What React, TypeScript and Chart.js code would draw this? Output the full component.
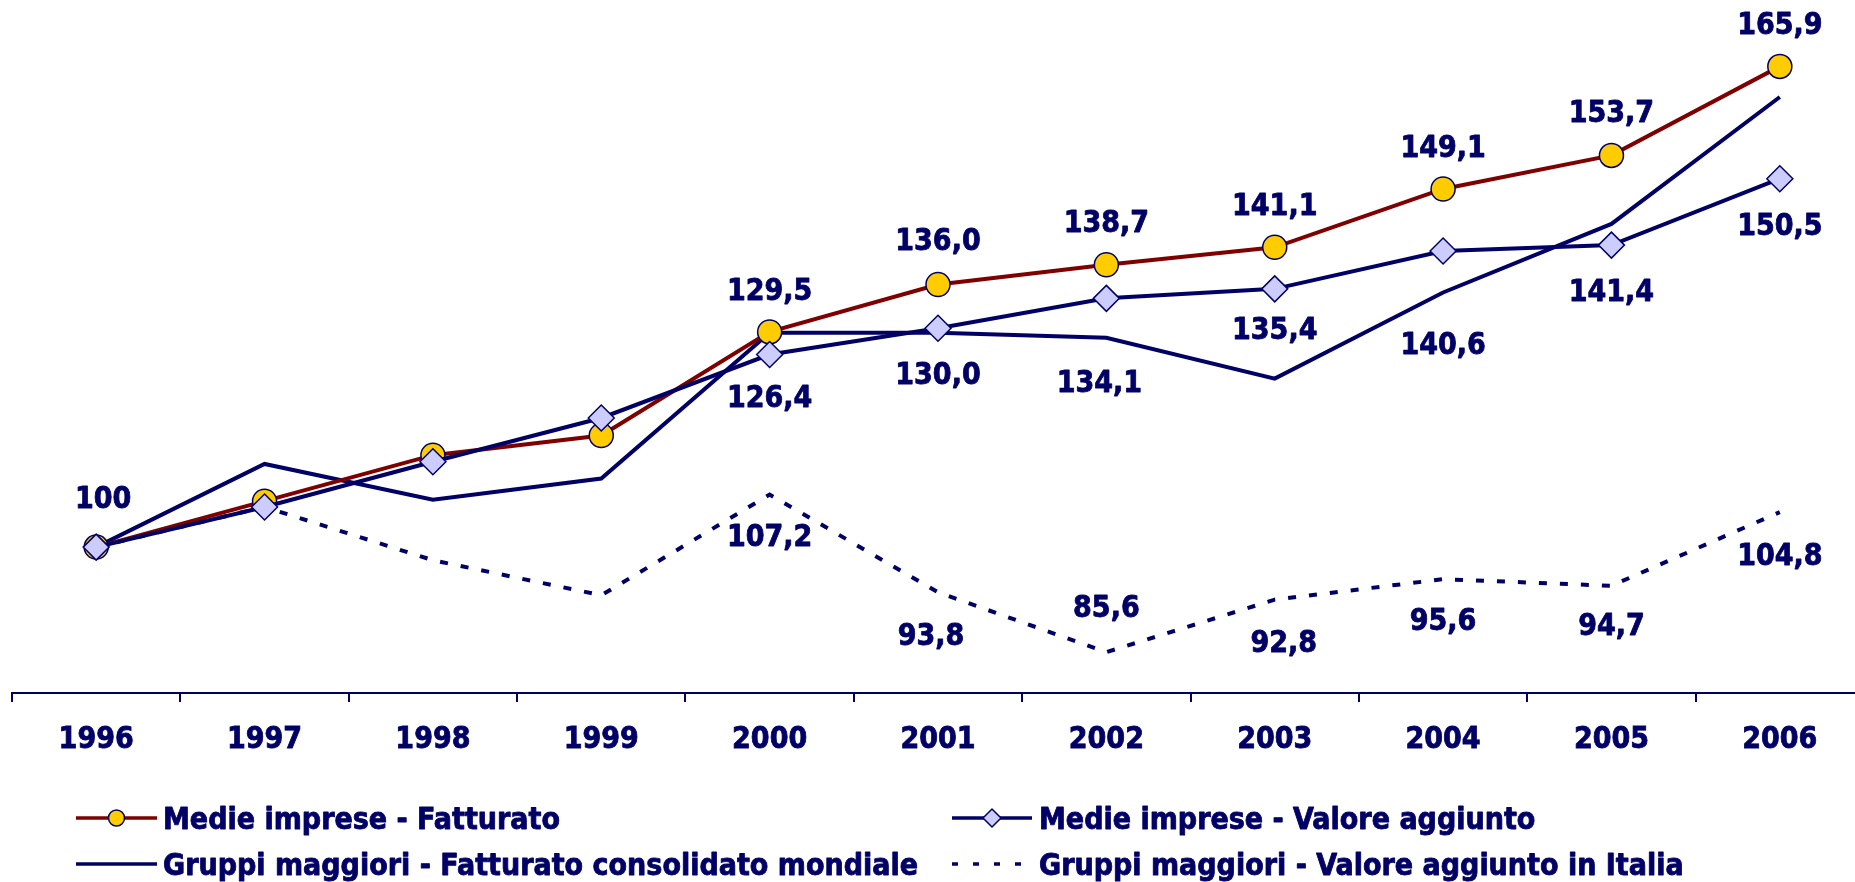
import React, { useEffect, useRef } from "react";
import { Chart, registerables } from "chart.js";

Chart.register(...registerables);

// ---------- data ----------
const years = ["1996", "1997", "1998", "1999", "2000", "2001", "2002", "2003", "2004", "2005", "2006"];

const medieFatturato = [100, 106.3, 112.6, 115.3, 129.5, 136.0, 138.7, 141.1, 149.1, 153.7, 165.9];
const medieValoreAggiunto = [100, 105.5, 111.7, 117.7, 126.4, 130.0, 134.1, 135.4, 140.6, 141.4, 150.5];
const gruppiFatturatoMondiale = [100, 111.4, 106.5, 109.4, 129.4, 129.4, 128.7, 123.1, 134.9, 144.3, 161.7];
const gruppiValoreItalia = [100, 105.5, 98.2, 93.4, 107.2, 93.8, 85.6, 92.8, 95.6, 94.7, 104.8];

const fatturatoLabels = ["100", "", "", "", "129,5", "136,0", "138,7", "141,1", "149,1", "153,7", "165,9"];
const valoreLabels = ["", "", "", "", "126,4", "130,0", "134,1", "135,4", "140,6", "141,4", "150,5"];
const italiaLabels = ["", "", "", "", "107,2", "93,8", "85,6", "92,8", "95,6", "94,7", "104,8"];

const seriesNames = [
  "Medie imprese - Fatturato",
  "Medie imprese - Valore aggiunto",
  "Gruppi maggiori - Fatturato consolidato mondiale",
  "Gruppi maggiori - Valore aggiunto in Italia",
];

// ---------- styles ----------
const NAVY = "#000066";
const MAROON = "#800000";
const GOLD = "#FFCC00";
const LAVENDER = "#CCCCFF";
const FONT = '"DejaVu Sans Condensed", "DejaVu Sans", sans-serif';
const FONT_SIZE = 30;
const TEXT_STROKE = 0.8;
const LINE_W = 4;
const DASH = [8, 13];

// label offsets [dx, dy] in px relative to the point
const fatturatoOffsets = [[7, -50], [0, 0], [0, 0], [0, 0], [0, -43], [0, -45], [0, -44], [0, -43], [0, -43], [0, -44], [0, -43]];
const valoreOffsets = [[0, 0], [0, 0], [0, 0], [0, 0], [0, 42], [0, 45], [-7, 83], [0, 39], [0, 92], [0, 45], [0, 45]];
const italiaOffsets = [[0, 0], [0, 0], [0, 0], [0, 0], [0, 40], [-7, 42], [0, -46], [9, 41], [0, 40], [0, 38], [0, 42]];

function boldText(ctx: any, t: string, x: number, y: number) {
  ctx.lineWidth = TEXT_STROKE;
  ctx.strokeStyle = NAVY;
  ctx.lineJoin = "round";
  ctx.strokeText(t, x, y);
  ctx.fillText(t, x, y);
}

const labelPlugin = {
  id: "valueLabels",
  afterDatasetsDraw(chart: any) {
    const ctx = chart.ctx;
    const specs = [
      { ds: 0, texts: fatturatoLabels, offs: fatturatoOffsets },
      { ds: 1, texts: valoreLabels, offs: valoreOffsets },
      { ds: 3, texts: italiaLabels, offs: italiaOffsets },
    ];
    ctx.save();
    ctx.font = `bold ${FONT_SIZE}px ${FONT}`;
    ctx.fillStyle = NAVY;
    ctx.textAlign = "center";
    ctx.textBaseline = "alphabetic";
    for (const s of specs) {
      const meta = chart.getDatasetMeta(s.ds);
      s.texts.forEach((t, i) => {
        if (!t) return;
        const p = meta.data[i];
        const [dx, dy] = s.offs[i];
        boldText(ctx, t, p.x + dx, p.y + dy + 0.365 * FONT_SIZE);
      });
    }
    ctx.restore();
  },
};

function drawCircle(ctx: any, x: number, y: number, r: number) {
  ctx.beginPath();
  ctx.arc(x, y, r, 0, Math.PI * 2);
  ctx.fillStyle = GOLD;
  ctx.fill();
  ctx.lineWidth = 1.5;
  ctx.strokeStyle = NAVY;
  ctx.stroke();
}
function drawDiamond(ctx: any, x: number, y: number, r: number) {
  ctx.beginPath();
  ctx.moveTo(x, y - r);
  ctx.lineTo(x + r, y);
  ctx.lineTo(x, y + r);
  ctx.lineTo(x - r, y);
  ctx.closePath();
  ctx.fillStyle = LAVENDER;
  ctx.fill();
  ctx.lineWidth = 1.5;
  ctx.strokeStyle = NAVY;
  ctx.stroke();
}

const legendPlugin = {
  id: "gridLegend",
  afterDraw(chart: any) {
    const ctx = chart.ctx;
    const rows = [818, 864];
    const cols = [
      { x0: 76, x1: 157, tx: 163 },
      { x0: 952, x1: 1032, tx: 1039 },
    ];
    const items = [
      { name: seriesNames[0], row: 0, col: 0, color: MAROON, dash: [] as number[], marker: "circle" },
      { name: seriesNames[1], row: 0, col: 1, color: NAVY, dash: [] as number[], marker: "diamond" },
      { name: seriesNames[2], row: 1, col: 0, color: NAVY, dash: [] as number[], marker: "" },
      { name: seriesNames[3], row: 1, col: 1, color: NAVY, dash: [6, 15], marker: "" },
    ];
    ctx.save();
    for (const it of items) {
      const c = cols[it.col];
      const y = rows[it.row];
      ctx.beginPath();
      ctx.setLineDash(it.dash);
      ctx.lineWidth = 3.5;
      ctx.strokeStyle = it.color;
      ctx.moveTo(c.x0, y);
      ctx.lineTo(c.x1, y);
      ctx.stroke();
      ctx.setLineDash([]);
      const mx = (c.x0 + c.x1) / 2;
      if (it.marker === "circle") drawCircle(ctx, mx, y, 8);
      if (it.marker === "diamond") drawDiamond(ctx, mx, y, 9);
      ctx.font = `bold ${FONT_SIZE}px ${FONT}`;
      ctx.fillStyle = NAVY;
      ctx.textAlign = "left";
      ctx.textBaseline = "alphabetic";
      boldText(ctx, it.name, c.tx, y + 0.365 * FONT_SIZE);
    }
    ctx.restore();
  },
};

export default function App() {
  const ref = useRef<HTMLCanvasElement | null>(null);

  useEffect(() => {
    const canvas = ref.current;
    if (!canvas) return;
    const chart = new Chart(canvas, {
      type: "line",
      data: {
        labels: years,
        datasets: [
          {
            label: seriesNames[0],
            data: medieFatturato,
            borderColor: MAROON,
            borderWidth: LINE_W,
            pointStyle: "circle",
            pointRadius: 12,
            pointBackgroundColor: GOLD,
            pointBorderColor: NAVY,
            pointBorderWidth: 1.5,
            tension: 0,
            order: 1,
          },
          {
            label: seriesNames[1],
            data: medieValoreAggiunto,
            borderColor: NAVY,
            borderWidth: LINE_W,
            pointStyle: "rectRot",
            pointRadius: 13,
            pointBackgroundColor: LAVENDER,
            pointBorderColor: NAVY,
            pointBorderWidth: 1.5,
            tension: 0,
            order: 0,
          },
          {
            label: seriesNames[2],
            data: gruppiFatturatoMondiale,
            borderColor: NAVY,
            borderWidth: LINE_W,
            pointRadius: 0,
            tension: 0,
            order: 2,
          },
          {
            label: seriesNames[3],
            data: gruppiValoreItalia,
            borderColor: NAVY,
            borderWidth: LINE_W,
            borderDash: DASH,
            pointRadius: 0,
            tension: 0,
            order: 3,
          },
        ],
      },
      options: {
        animation: false,
        responsive: false,
        maintainAspectRatio: false,
        layout: { autoPadding: false, padding: { left: 12, right: 6, top: 0, bottom: 0 } },
        plugins: {
          legend: { display: false },
          tooltip: { enabled: false },
        },
        scales: {
          x: {
            type: "category",
            offset: true,
            grid: {
              offset: true,
              drawOnChartArea: false,
              drawTicks: true,
              tickLength: 9,
              color: NAVY,
              lineWidth: 2,
            },
            border: { display: true, color: NAVY, width: 2 },
            ticks: {
              color: NAVY,
              font: { family: FONT, size: FONT_SIZE, weight: "bold" },
              textStrokeColor: NAVY,
              textStrokeWidth: TEXT_STROKE,
              padding: 20,
              maxRotation: 0,
              autoSkip: false,
            },
            afterFit: (s: any) => {
              s.height = 189;
            },
          },
          y: { display: false, min: 80, max: 175 },
        },
      },
      plugins: [labelPlugin, legendPlugin],
    } as any);
    return () => chart.destroy();
  }, []);

  return (
    <div
      style={{
        position: "fixed",
        left: 0,
        top: 0,
        width: 1855,
        height: 882,
        overflow: "hidden",
        background: "#ffffff",
      }}
    >
      <canvas ref={ref} width={1870} height={882} style={{ display: "block", width: 1870, height: 882 }} />
    </div>
  );
}
